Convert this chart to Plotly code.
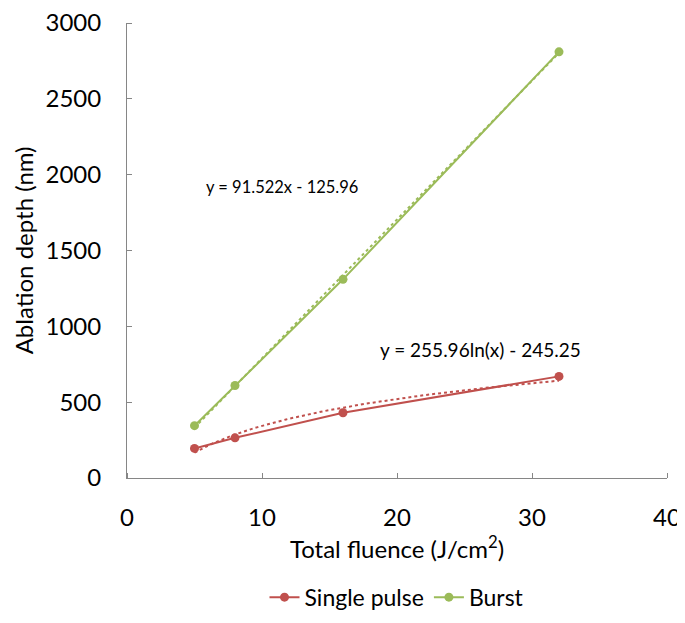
import numpy as np
import plotly.graph_objects as go

fluence = [5, 8, 16, 32]
single_pulse = [195, 265, 430, 670]
burst = [345, 610, 1310, 2810]

# trendline coefficients as shown on the chart
lin_slope, lin_intercept = 91.522, -125.96
log_coef, log_intercept = 255.96, -245.25

x_tick_vals = [0, 10, 20, 30, 40]
y_tick_vals = [0, 500, 1000, 1500, 2000, 2500, 3000]

RED = "#C0504D"
GREEN = "#9BBB59"
AXIS = "#868686"
FONT = "Lato"

xt = np.linspace(min(fluence), max(fluence), 200)
lin_trend = lin_slope * xt + lin_intercept
log_trend = log_coef * np.log(xt) + log_intercept

fig = go.Figure()
fig.add_trace(go.Scatter(x=xt, y=log_trend, mode="lines",
                         line=dict(color=RED, width=2, dash="dot"),
                         showlegend=False, hoverinfo="skip"))
fig.add_trace(go.Scatter(x=xt, y=lin_trend, mode="lines",
                         line=dict(color=GREEN, width=2, dash="dot"),
                         showlegend=False, hoverinfo="skip"))
fig.add_trace(go.Scatter(x=fluence, y=single_pulse, mode="lines+markers",
                         name="Single pulse",
                         line=dict(color=RED, width=2),
                         marker=dict(color=RED, size=9)))
fig.add_trace(go.Scatter(x=fluence, y=burst, mode="lines+markers",
                         name="Burst",
                         line=dict(color=GREEN, width=2),
                         marker=dict(color=GREEN, size=9)))

fig.add_annotation(x=11.5, y=1919, text="y = 91.522x - 125.96",
                   showarrow=False, font=dict(family=FONT, size=16.5, color="#000"))
fig.add_annotation(x=26.15, y=844, text="y = 255.96ln(x) - 245.25",
                   showarrow=False, font=dict(family=FONT, size=19, color="#000"))
fig.add_annotation(xref="paper", yref="paper", x=-0.191, y=0.5,
                   xanchor="center", yanchor="middle",
                   text="Ablation depth (nm)", textangle=-90, showarrow=False,
                   font=dict(family=FONT, size=24, color="#000"))

fig.update_layout(
    width=677, height=603,
    margin=dict(l=119, r=18, t=15, b=133, autoexpand=False),
    plot_bgcolor="white", paper_bgcolor="white",
    font=dict(family=FONT, color="#000"),
    xaxis=dict(range=[0, 40], tickvals=x_tick_vals, showgrid=False,
               zeroline=False, showline=True, linecolor=AXIS, linewidth=1,
               ticks="outside", ticklen=18, tickcolor="rgba(0,0,0,0)",
               minor=dict(tickvals=x_tick_vals, ticks="inside", ticklen=5,
                          tickcolor=AXIS, showgrid=False),
               automargin=False, ticklabeloverflow="allow",
               tickfont=dict(size=24, family=FONT),
               title=dict(text="Total fluence (J/cm<sup>2</sup>)",
                          font=dict(size=24, family=FONT), standoff=3)),
    yaxis=dict(range=[0, 3000], tickvals=y_tick_vals, showgrid=False,
               zeroline=False, showline=True, linecolor=AXIS, linewidth=1,
               ticks="outside", ticklen=20, tickcolor="rgba(0,0,0,0)",
               minor=dict(tickvals=y_tick_vals, ticks="inside", ticklen=5,
                          tickcolor=AXIS, showgrid=False),
               automargin=False, ticklabeloverflow="allow",
               tickfont=dict(size=24, family=FONT)),
    legend=dict(orientation="h", x=0.5, xanchor="center", y=-0.262,
                yanchor="middle", font=dict(size=23, family=FONT)),
)

fig.write_html("out.html")
